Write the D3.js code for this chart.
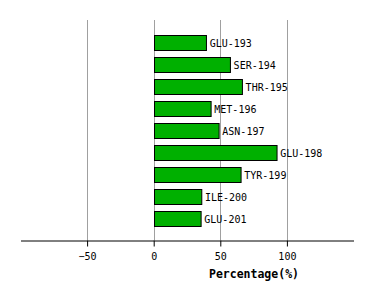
<!DOCTYPE html>
<html>
<head>
<meta charset="utf-8">
<script src="https://cdn.jsdelivr.net/npm/d3@7"></script>
<style>
  body { margin: 0; background: #fff; }
  svg { display: block; }
</style>
</head>
<body>
<script>
const residues = ['GLU-193', 'SER-194', 'THR-195', 'MET-196', 'ASN-197', 'GLU-198', 'TYR-199', 'ILE-200', 'GLU-201']
const percentages = [39, 57, 66, 42.5, 48.5, 92, 65, 35.5, 35]
const tickValues = [-50, 0, 50, 100]

let width = 374
let height = 300

const svg = d3.select('body')
  .append('svg')
  .attr('width', width)
  .attr('height', height)

const x = d3.scaleLinear()
  .domain([-100, 150])
  .range([20.5, 353.5])

const y = d3.scaleBand()
  .domain(residues)
  .range([31.5, 229.5])
  .paddingInner(7 / 22)
  .paddingOuter(3.5 / 22)

// grid lines
svg.selectAll('.grid')
  .data(tickValues)
  .join('line')
  .attr('class', 'grid')
  .attr('x1', d => Math.round(x(d)) + 0.5)
  .attr('x2', d => Math.round(x(d)) + 0.5)
  .attr('y1', 20)
  .attr('y2', 240)
  .style('stroke', '#a0a0a0')
  .style('stroke-width', 1)

// bars
svg.selectAll('.bar')
  .data(residues)
  .join('rect')
  .attr('class', 'bar')
  .attr('x', Math.round(x(0)) + 0.5)
  .attr('y', d => Math.round(y(d)) + 0.5)
  .attr('width', (d, i) => x(percentages[i]) - x(0))
  .attr('height', y.bandwidth())
  .style('fill', '#00b000')
  .style('stroke', 'black')
  .style('stroke-width', 1)

// bar labels
svg.selectAll('.label')
  .data(residues)
  .join('text')
  .attr('class', 'label')
  .attr('x', (d, i) => x(percentages[i]) + 4)
  .attr('y', d => y(d) + y.bandwidth() / 2 + 4)
  .attr('font-family', 'DejaVu Sans Mono')
  .attr('font-size', '10px')
  .text(d => d)

// x axis
const axis = svg.append('g')
  .attr('transform', 'translate(0,240.5)')
  .call(d3.axisBottom(x).tickValues(tickValues).tickSize(6).tickSizeOuter(0).tickPadding(6))

axis.select('.domain').attr('stroke', 'black')
axis.selectAll('.tick line').attr('stroke', 'black')
axis.selectAll('.tick text')
  .attr('font-family', 'DejaVu Sans Mono')
  .attr('font-size', '10px')
  .attr('fill', 'black')

svg.append('text')
  .attr('x', 254)
  .attr('y', 278)
  .attr('text-anchor', 'middle')
  .attr('font-family', 'DejaVu Sans Mono')
  .attr('font-weight', 'bold')
  .attr('font-size', '11.5px')
  .text('Percentage(%)')
</script>
</body>
</html>
